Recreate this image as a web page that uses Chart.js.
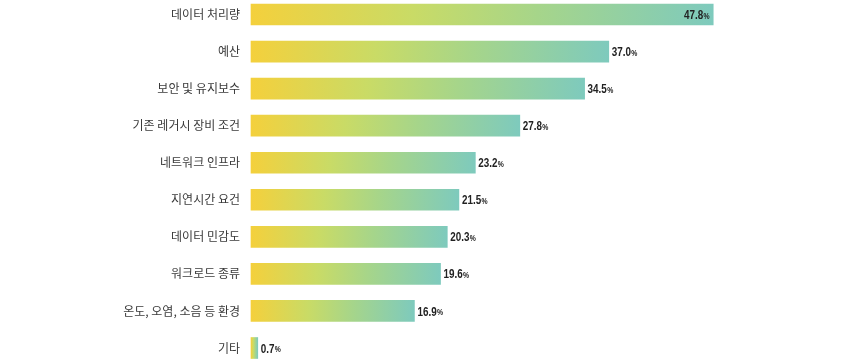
<!DOCTYPE html>
<html>
<head>
<meta charset="utf-8">
<script src="https://cdn.jsdelivr.net/npm/chart.js@4/dist/chart.umd.min.js"></script>
<style>
html,body{margin:0;padding:0;background:#fff;}
#wrap{width:844px;height:360px;position:relative;}
</style>
</head>
<body>
<div id="wrap"><canvas id="c" width="844" height="360"></canvas></div>
<script>
const categories = ['데이터 처리량','예산','보안 및 유지보수','기존 레거시 장비 조건','네트워크 인프라','지연시간 요건','데이터 민감도','워크로드 종류','온도, 오염, 소음 등 환경','기타'];
const values = [47.8, 37.0, 34.5, 27.8, 23.2, 21.5, 20.3, 19.6, 16.9, 0.7];
const xMax = 50;

const numFont = '"Liberation Sans", Arial, sans-serif';
const squeeze = 0.76;

function barGradient(ctx) {
  const chart = ctx.chart;
  const xs = chart.scales.x;
  if (!xs || !chart.chartArea || ctx.dataIndex === undefined) return '#c4dc6c';
  const v = values[ctx.dataIndex];
  const x0 = xs.getPixelForValue(0);
  const x1 = xs.getPixelForValue(v);
  const g = chart.ctx.createLinearGradient(x0, 0, Math.max(x1, x0 + 1), 0);
  g.addColorStop(0, '#f4d03c');
  g.addColorStop(0.35, '#c9db66');
  g.addColorStop(0.62, '#a6d58a');
  g.addColorStop(1, '#7ecabd');
  return g;
}

const valueLabels = {
  id: 'valueLabels',
  afterDatasetsDraw(chart) {
    const c = chart.ctx;
    const meta = chart.getDatasetMeta(0);
    const maxV = Math.max(...values);
    c.save();
    c.textBaseline = 'middle';
    c.textAlign = 'left';
    c.fillStyle = '#222';
    meta.data.forEach((bar, i) => {
      const num = values[i].toFixed(1);
      c.font = 'bold 13px ' + numFont;
      const wNum = c.measureText(num).width * squeeze;
      c.font = 'bold 9px ' + numFont;
      const wPct = c.measureText('%').width * squeeze;
      let x;
      if (values[i] === maxV) {
        x = bar.x - 4 - wNum - wPct;
      } else {
        x = bar.x + 3;
      }
      c.save();
      c.translate(x, bar.y + 1);
      c.scale(squeeze, 1);
      c.font = 'bold 13px ' + numFont;
      c.fillText(num, 0, 0);
      c.font = 'bold 9px ' + numFont;
      c.fillText('%', (wNum + 0.3) / squeeze, 1);
      c.restore();
    });
    c.restore();
  }
};

new Chart(document.getElementById('c'), {
  type: 'bar',
  data: {
    labels: categories,
    datasets: [{
      data: values,
      backgroundColor: barGradient,
      borderWidth: 0,
      barThickness: 21,
      clip: false
    }]
  },
  options: {
    indexAxis: 'y',
    responsive: false,
    animation: false,
    layout: { padding: { top: 14.5, bottom: 12, left: 0, right: 844 - 251 - 483.5 } },
    plugins: { legend: { display: false }, tooltip: { enabled: false } },
    scales: {
      x: { display: false, min: 0, max: xMax },
      y: {
        type: 'category',
        offset: false,
        grid: { display: false, drawTicks: false },
        border: { display: false },
        ticks: {
          padding: 11,
          color: '#3a3a3a',
          font: { family: '"Noto Sans CJK KR", "Noto Sans", sans-serif', size: 12 }
        },
        afterFit(scale) { scale.width = 251; scale.paddingTop = 0; scale.paddingBottom = 0; }
      }
    }
  },
  plugins: [valueLabels]
});
</script>
</body>
</html>
